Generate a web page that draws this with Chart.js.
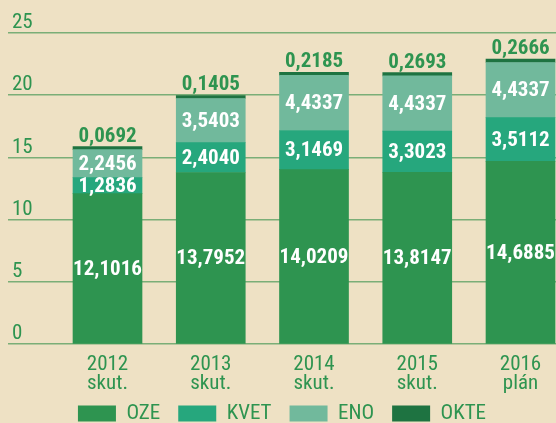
<!DOCTYPE html>
<html>
<head>
<meta charset="utf-8">
<script src="https://cdn.jsdelivr.net/npm/chart.js@4"></script>
<style>
  html, body { margin: 0; padding: 0; background: #EEE1C4; width: 556px; height: 423px; overflow: hidden; }
  #wrap { width: 556px; height: 423px; overflow: hidden; }
  canvas { display: block; }
</style>
</head>
<body>
<div id="wrap"><canvas id="c" width="556" height="454"></canvas></div>
<script>
const years = ['2012', '2013', '2014', '2015', '2016'];
const notes = ['skut.', 'skut.', 'skut.', 'skut.', 'plán'];
const oze  = [12.1016, 13.7952, 14.0209, 13.8147, 14.6885];
const kvet = [1.2836, 2.4040, 3.1469, 3.3023, 3.5112];
const eno  = [2.2456, 3.5403, 4.4337, 4.4337, 4.4337];
const okte = [0.0692, 0.1405, 0.2185, 0.2693, 0.2666];
const seriesNames = ['OZE', 'KVET', 'ENO', 'OKTE'];
const yTicks = [0, 5, 10, 15, 20, 25];

const FONT = "'Roboto Condensed', 'DejaVu Sans Condensed', sans-serif";
const GREEN_TEXT = '#2E9450';
const colors = ['#2E9450', '#26A77D', '#71B99C', '#1E7341'];

const toPts = arr => arr.map((v, i) => ({ x: i, y: v }));
const fmt = v => v.toFixed(4).replace('.', ',');

const labelPlugin = {
  id: 'valueLabels',
  afterLayout(chart) {
    const lg = chart.legend;
    if (lg) { lg.top -= 20; lg.bottom -= 20; }
  },
  afterDatasetsDraw(chart) {
    const ctx = chart.ctx;
    ctx.save();
    ctx.font = "bold 21px " + FONT;
    ctx.textAlign = 'center';
    chart.data.datasets.forEach((ds, di) => {
      const meta = chart.getDatasetMeta(di);
      meta.data.forEach((bar, i) => {
        const v = ds.data[i].y;
        if (di === 3) {
          ctx.fillStyle = GREEN_TEXT;
          ctx.textBaseline = 'alphabetic';
          ctx.fillText(fmt(v), bar.x, Math.min(bar.y, bar.base) - 5);
        } else {
          ctx.fillStyle = '#FFFFFF';
          ctx.textBaseline = 'middle';
          ctx.fillText(fmt(v), bar.x, (bar.y + bar.base) / 2 + 1);
        }
      });
    });
    ctx.restore();
  }
};

const seriesData = [oze, kvet, eno, okte];
new Chart(document.getElementById('c'), {
  type: 'bar',
  data: {
    datasets: seriesData.map((arr, k) => ({
      label: seriesNames[k],
      data: toPts(arr),
      backgroundColor: colors[k],
      borderWidth: 0,
      barThickness: 69,
      minBarLength: k === 3 ? 3 : 0
    }))
  },
  options: {
    responsive: false,
    animation: false,
    layout: { padding: { left: 8, right: 0, top: 33, bottom: 0 } },
    plugins: {
      tooltip: { enabled: false },
      legend: {
        position: 'bottom',
        labels: {
          boxWidth: 38,
          boxHeight: 16,
          padding: 18,
          color: GREEN_TEXT,
          font: { family: FONT, size: 21, lineHeight: 1 }
        }
      }
    },
    scales: {
      x: {
        type: 'linear',
        offset: false,
        stacked: true,
        min: -0.9637,
        max: 4.3438,
        grid: { display: false, drawTicks: false },
        border: { display: false },
        ticks: {
          stepSize: 1,
          includeBounds: false,
          autoSkip: false,
          maxRotation: 0,
          padding: 11.5,
          color: GREEN_TEXT,
          font: { family: FONT, size: 21, lineHeight: 0.9 },
          callback: v => Number.isInteger(v) && years[v] ? [years[v], notes[v]] : ''
        }
      },
      y: {
        stacked: true,
        min: 0,
        max: 25,
        grid: { color: '#7AAE77', lineWidth: 1.5, drawTicks: false },
        border: { display: false },
        afterFit: s => { s.width = 0; },
        afterBuildTicks: axis => { axis.ticks = yTicks.map(v => ({ value: v })); },
        ticks: {
          mirror: true,
          padding: 4,
          labelOffset: -10,
          color: GREEN_TEXT,
          font: { family: FONT, size: 21 }
        }
      }
    }
  },
  plugins: [labelPlugin]
});
</script>
</body>
</html>
